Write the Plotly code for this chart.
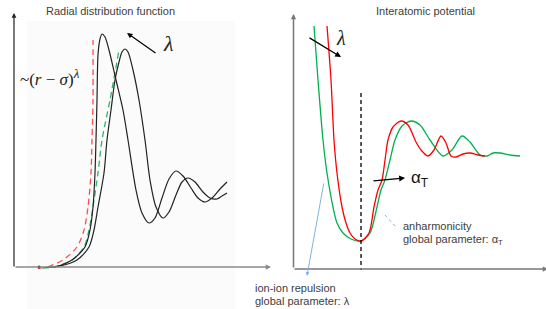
import plotly.graph_objects as go

# ---------------- data (pixel-like schematic units) -------------
# Left panel: radial distribution function curves
rdf_a_x = [45, 57, 72, 85, 90, 93, 95, 96, 97, 98, 100, 102, 105, 109, 116, 123, 128, 136, 142, 149, 155, 162, 169, 176, 183, 191, 198, 205, 212, 220, 227]
rdf_a_y = [267.5, 266.5, 260, 247, 230, 207, 173, 140, 100, 55, 39, 34, 37, 50, 80, 110, 140, 190, 213, 223, 218, 198, 179, 171, 176, 188, 198, 202, 198, 189, 182]
rdf_b_x = [47, 58, 77, 89, 94, 98, 104, 107, 111, 115, 119, 122, 125, 128, 133, 139, 145, 150, 156, 163, 169, 176, 182, 188, 195, 203, 210, 217, 222, 227]
rdf_b_y = [267.5, 266.5, 260, 247, 230, 207, 173, 140, 110, 80, 62, 52, 49, 52, 70, 100, 140, 180, 207, 218, 212, 195, 182, 178, 182, 192, 198, 199, 196, 193]
rdf_red_x = [38, 47, 63, 77, 84, 88, 91, 92, 93, 93]
rdf_red_y = [268, 267, 260, 247, 230, 207, 173, 140, 100, 40]
rdf_green_x = [43, 53, 72, 84, 89, 93, 98, 102, 110, 119]
rdf_green_y = [268, 267, 260, 247, 230, 207, 173, 140, 100, 50]
rdf_dot_x = [39]
rdf_dot_y = [267]

# Right panel: interatomic potential curves
pot_green_x = [314, 318, 323, 327, 333, 337, 343, 351, 361, 370, 377, 381, 385, 390, 395, 402, 411, 420, 430, 443, 452, 462, 470, 480, 487, 493, 500, 510, 520]
pot_green_y = [26, 80, 140, 173, 207, 223, 233, 239, 241, 233, 207, 190, 180, 160, 140, 126, 121, 125, 140, 156, 150, 136, 142, 155, 156, 153, 153, 155, 156]
pot_red_x = [327, 331, 334, 337, 342, 346, 350, 355, 361, 369, 374, 378, 382, 385, 388, 393, 401, 408, 416, 421, 428, 434, 441, 446, 451, 456, 463, 470, 478, 485]
pot_red_y = [26, 80, 140, 173, 207, 223, 233, 239, 241, 233, 207, 190, 180, 160, 140, 127, 121, 125, 142, 150, 156, 150, 136, 143, 156, 157, 154, 153, 155, 156]
eq_line_x = [361, 361]
eq_line_y = [93, 270]

titles = ["Radial distribution function", "Interatomic potential"]
title_x = [110, 425]

DARK = "#404040"
RED = "#ff0000"
GREEN = "#00b050"

fig = go.Figure()

def line(x, y, color, width=1.2, dash=None, shape="spline"):
    fig.add_trace(go.Scatter(x=x, y=y, mode="lines",
                             line=dict(color=color, width=width, dash=dash, shape=shape, smoothing=0.8),
                             hoverinfo="skip"))

# left panel
line(rdf_red_x, rdf_red_y, "#ff4d4d", 1.3, "6px,4px")
line(rdf_green_x, rdf_green_y, "#2eb36b", 1.3, "6px,4px")
line(rdf_a_x, rdf_a_y, "#222222", 1.2)
line(rdf_b_x, rdf_b_y, "#222222", 1.2)
fig.add_trace(go.Scatter(x=rdf_dot_x, y=rdf_dot_y, mode="markers",
                         marker=dict(color="black", size=3), hoverinfo="skip"))

# right panel
line(pot_green_x, pot_green_y, GREEN, 1.3)
line(pot_red_x, pot_red_y, RED, 1.3)
line(eq_line_x, eq_line_y, "black", 1.3, "4px,3px", shape="linear")

def arrow(x, y, ax, ay, color="black", width=1.2, head=2, size=1.0):
    fig.add_annotation(x=x, y=y, ax=ax, ay=ay, xref="x", yref="y", axref="x", ayref="y",
                       text="", showarrow=True, arrowhead=head, arrowsize=size,
                       arrowwidth=width, arrowcolor=color)

# axes (drawn as arrows)
arrow(14, 13, 14, 268, "#222222", 1.2, 2, 0.8)
arrow(271, 267, 14, 267, "#8a8a8a", 1.5, 2, 0.7)
arrow(293.5, 14, 293.5, 269, "#777777", 1.5, 2, 0.7)
arrow(548, 269, 293, 269, "#777777", 1.5, 2, 0.7)

# parameter arrows
arrow(127, 33, 157, 54, "black", 1.2, 2, 0.9)
arrow(341, 57, 308, 37, "black", 1.3, 2, 0.9)
arrow(405, 178, 372, 181, "black", 1.3, 2, 0.9)
arrow(307, 276, 324, 182, "#7fb2e5", 1.0, 2, 0.8)
fig.add_trace(go.Scatter(x=[385, 396], y=[215, 227], mode="lines",
                         line=dict(color="#7fb2e5", width=1.0, dash="dot"), hoverinfo="skip"))
arrow(397, 228, 395, 226, "#7fb2e5", 1.0, 2, 0.8)

# texts
for t, xx in zip(titles, title_x):
    fig.add_annotation(x=xx, y=11, text=t, showarrow=False, xref="x", yref="y",
                       font=dict(family="Liberation Sans", size=11, color=DARK))

fig.add_annotation(x=18, y=77, xanchor="left",
                   text="~(<i>r</i> − <i>σ</i>)<sup><span style='font-size:13px'><i>λ</i></span></sup>",
                   showarrow=False, font=dict(family="Liberation Serif", size=17, color="#222222"))
fig.add_annotation(x=168, y=43, text="<i>λ</i>", showarrow=False,
                   font=dict(family="Liberation Serif", size=22, color="#222222"))
fig.add_annotation(x=341, y=38, text="<i>λ</i>", showarrow=False,
                   font=dict(family="Liberation Serif", size=20, color="#222222"))
fig.add_annotation(x=409, y=179, xanchor="left", text="α<sub>T</sub>", showarrow=False,
                   font=dict(family="Liberation Sans", size=17, color="#111111"))
fig.add_annotation(x=401, y=226, xanchor="left", text="anharmonicity", showarrow=False,
                   font=dict(family="Liberation Sans", size=11, color=DARK))
fig.add_annotation(x=401, y=240, xanchor="left", text="global parameter: α<sub>T</sub>", showarrow=False,
                   font=dict(family="Liberation Sans", size=11, color=DARK))
fig.add_annotation(x=253, y=288, xanchor="left", text="ion-ion repulsion", showarrow=False,
                   font=dict(family="Liberation Sans", size=11, color=DARK))
fig.add_annotation(x=253, y=301, xanchor="left", text="global parameter: λ", showarrow=False,
                   font=dict(family="Liberation Sans", size=11, color=DARK))

fig.add_shape(type="rect", x0=27, x1=235, y0=21, y1=309, xref="x", yref="y",
              fillcolor="#fbfbfb", line=dict(width=0), layer="below")

fig.update_layout(width=546, height=309, margin=dict(l=0, r=0, t=0, b=0),
                  paper_bgcolor="white", plot_bgcolor="white", showlegend=False,
                  hovermode=False,
                  xaxis=dict(range=[0, 546], visible=False, fixedrange=True),
                  yaxis=dict(range=[309, 0], visible=False, fixedrange=True))

# remove the browser's default 8px body margin so the figure fills the window exactly
fig.write_html("out.html", config={"displayModeBar": False, "staticPlot": True},
               post_script="document.body.style.margin='0';document.body.style.overflow='hidden';")
